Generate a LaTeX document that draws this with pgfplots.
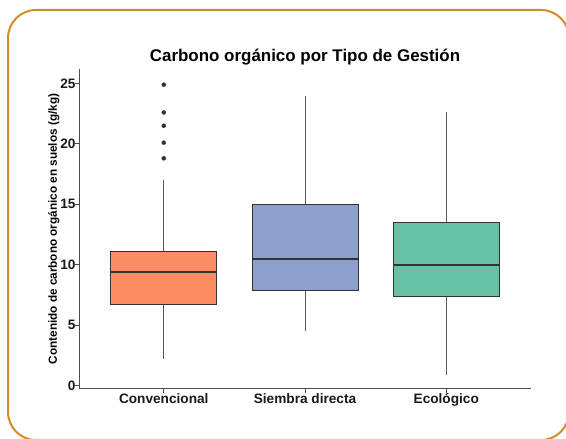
\documentclass[border=0pt]{standalone}
\usepackage{pgfplots}
\pgfplotsset{compat=1.18}
\usepackage{fontspec}
\setmainfont{Liberation Sans}
\definecolor{cconv}{HTML}{FC8D62}
\definecolor{csd}{HTML}{8DA0CB}
\definecolor{ceco}{HTML}{66C2A5}
\definecolor{framec}{RGB}{212,140,42}
\definecolor{boxline}{HTML}{333333}
\begin{document}
\begin{tikzpicture}[x=1bp,y=1bp]
\useasboundingbox (0,0) rectangle (566,439);
\fill[white] (0,0) rectangle (566,439);
\draw[framec, line width=2bp, rounded corners=28bp] (8,-1) rectangle (569,429);
\begin{axis}[
  at={(79bp,50bp)}, anchor=south west,
  scale only axis, width=452bp, height=320bp,
  xmin=0.4, xmax=3.6, ymin=-0.3, ymax=26.2,
  axis x line*=bottom, axis y line*=left,
  axis line style={draw=black!70, line width=1bp},
  xtick={1,2,3}, xticklabels={Convencional, Siembra directa, Ecológico},
  ytick={0,5,...,25},
  tick align=outside, major tick length=4bp,
  tick style={draw=black!70, line width=0.8bp},
  ticklabel style={font=\fontsize{13.7}{15}\selectfont\bfseries, text=black!90},
  xticklabel shift=-3bp, yticklabel shift=-4bp,
  /pgf/number format/assume math mode=true,
  title={Carbono orgánico por Tipo de Gestión},
  every axis title/.style={at={(0.5,1)}, anchor=base, yshift=7bp, font=\fontsize{17}{20}\selectfont\bfseries},
  ylabel={Contenido de carbono orgánico en suelos (g/kg)},
  every axis y label/.style={at={(axis description cs:-0.0487,0.5)}, rotate=90, anchor=base, font=\fontsize{11.8}{13}\selectfont\bfseries},
  whisk/.style={draw=black!65, line width=0.7bp},
  boxs/.style={draw=boxline, line width=0.7bp},
  med/.style={draw=boxline, line width=2bp},
]
% Convencional
\addplot[whisk] coordinates {(1,2.2) (1,6.7)};
\addplot[whisk] coordinates {(1,11.1) (1,17.0)};
\addplot[boxs, fill=cconv] coordinates {(0.625,6.7) (1.375,6.7) (1.375,11.1) (0.625,11.1)} -- cycle;
\addplot[med] coordinates {(0.625,9.35) (1.375,9.35)};
% Siembra directa
\addplot[whisk] coordinates {(2,4.5) (2,7.9)};
\addplot[whisk] coordinates {(2,15.0) (2,24.0)};
\addplot[boxs, fill=csd] coordinates {(1.625,7.9) (2.375,7.9) (2.375,15.0) (1.625,15.0)} -- cycle;
\addplot[med] coordinates {(1.625,10.5) (2.375,10.5)};
% Ecologico
\addplot[whisk] coordinates {(3,0.9) (3,7.4)};
\addplot[whisk] coordinates {(3,13.5) (3,22.6)};
\addplot[boxs, fill=ceco] coordinates {(2.625,7.4) (3.375,7.4) (3.375,13.5) (2.625,13.5)} -- cycle;
\addplot[med] coordinates {(2.625,10.0) (3.375,10.0)};
% outliers
\addplot[only marks, mark=*, mark size=2bp, draw=boxline, fill=boxline] coordinates {(1,24.9) (1,22.6) (1,21.5) (1,20.1) (1,18.8)};
\end{axis}
\end{tikzpicture}
\end{document}
